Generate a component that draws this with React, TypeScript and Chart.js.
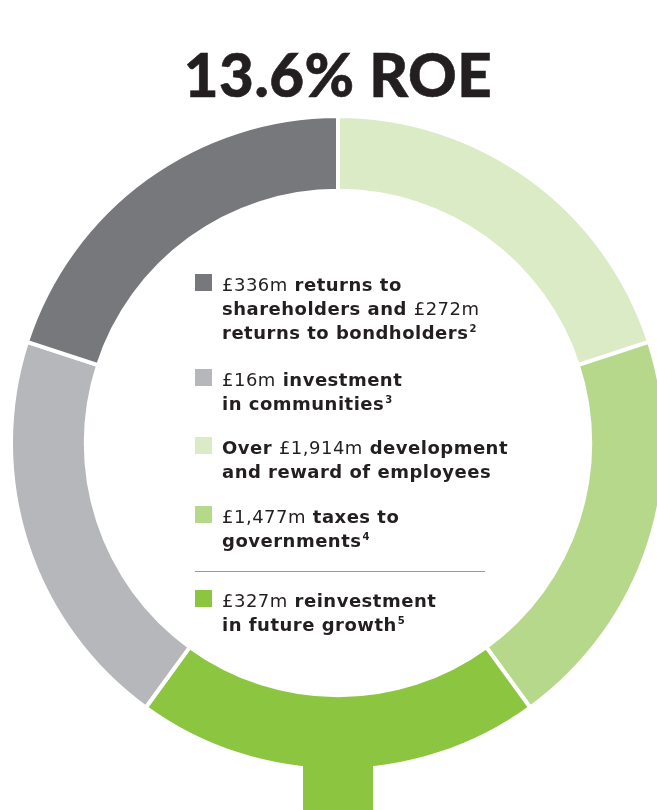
import React, { useEffect, useRef } from "react";
import { Chart, registerables } from "chart.js";

Chart.register(...registerables);

const TITLE = "13.6% ROE";

// Ring segments, clockwise from 12 o'clock
const categories = [
  "Development and reward of employees",
  "Taxes to governments",
  "Reinvestment in future growth",
  "Investment in communities",
  "Returns to shareholders and bondholders",
];
const amountsGBPm = [1914, 1477, 327, 16, 608];
const ringShares = [20, 20, 20, 20, 20];
const ringColors = ["#dbebc5", "#b6d88b", "#8cc53f", "#b6b7bb", "#77787b"];

// Legend (order shown in the centre), each line is a list of [text, style]
const legendOrder = [4, 3, 0, 1, 2];
const legendLines: any[] = [
  [
    [["£336m", "r"], [" returns to", "b"]],
    [["shareholders and ", "b"], ["£272m", "r"]],
    [["returns to bondholders", "b"], ["2", "s"]],
  ],
  [
    [["£16m", "r"], [" investment", "b"]],
    [["in communities", "b"], ["3", "s"]],
  ],
  [
    [["Over ", "b"], ["£1,914m", "r"], [" development", "b"]],
    [["and reward of employees", "b"]],
  ],
  [
    [["£1,477m", "r"], [" taxes to", "b"]],
    [["governments", "b"], ["4", "s"]],
  ],
  [
    [["£327m", "r"], [" reinvestment", "b"]],
    [["in future growth", "b"], ["5", "s"]],
  ],
];
const legendGapsAfter = [23, 20, 21, 0, 0];

const TITLE_FONT = "Lato, 'DejaVu Sans', sans-serif";
const BODY_FONT = "'DejaVu Sans', Lato, sans-serif";
const INK = "#231f20";

const stemPlugin = {
  id: "stem",
  afterDatasetsDraw(chart: any) {
    const arc = chart.getDatasetMeta(0).data[2];
    if (!arc) return;
    const { x, y, outerRadius } = arc.getProps(["x", "y", "outerRadius"], true);
    const ctx = chart.ctx;
    const top = y + outerRadius - 20;
    ctx.save();
    ctx.fillStyle = ringColors[2];
    ctx.fillRect(x - 35, top, 70, chart.height - top);
    ctx.restore();
  },
};

function Span({ part }: { part: any }) {
  const [text, style] = part;
  if (style === "s") {
    return (
      <span style={{ fontSize: 10, fontWeight: 700, position: "relative", top: -7, marginLeft: 1, letterSpacing: 0 }}>
        {text}
      </span>
    );
  }
  return (
    <span style={{ fontWeight: style === "b" ? 700 : 400, whiteSpace: "pre" }}>{text}</span>
  );
}

function LegendItem({ idx, pos }: { idx: number; pos: number }) {
  const lines = legendLines[pos];
  return (
    <div style={{ display: "flex", alignItems: "flex-start", marginBottom: legendGapsAfter[pos] }}>
      <div
        style={{
          width: 17,
          height: 17,
          marginTop: 1,
          background: ringColors[idx],
          flex: "0 0 auto",
        }}
      />
      <div style={{ marginLeft: 10 }}>
        {lines.map((line: any, i: number) => (
          <div key={i} style={{ height: 24, whiteSpace: "nowrap" }}>
            {line.map((p: any, j: number) => (
              <Span key={j} part={p} />
            ))}
          </div>
        ))}
      </div>
    </div>
  );
}

export default function App() {
  const canvasRef = useRef<HTMLCanvasElement | null>(null);

  useEffect(() => {
    if (!canvasRef.current) return;
    const chart = new Chart(canvasRef.current, {
      type: "doughnut",
      data: {
        labels: categories,
        datasets: [
          {
            data: ringShares,
            backgroundColor: ringColors,
            borderColor: "#ffffff",
            borderWidth: 4,
            hoverOffset: 0,
          },
        ],
      },
      options: {
        responsive: false,
        animation: false,
        radius: 327,
        cutout: 253,
        rotation: 0,
        layout: { padding: { bottom: 40 } },
        events: [],
        plugins: {
          legend: { display: false },
          tooltip: { enabled: false },
          title: { display: false },
        },
      } as any,
      plugins: [stemPlugin],
    });
    return () => chart.destroy();
  }, []);

  return (
    <div
      style={{
        position: "absolute",
        left: 0,
        top: 0,
        width: 657,
        height: 810,
        overflow: "hidden",
        background: "#ffffff",
        fontFamily: BODY_FONT,
        color: INK,
      }}
    >
      <div style={{ position: "absolute", left: 8, top: 113 }}>
        <canvas ref={canvasRef} width={660} height={700} style={{ display: "block" }} />
      </div>
      <div
        style={{
          position: "absolute",
          left: 0,
          top: 44,
          width: 676,
          textAlign: "center",
          fontFamily: TITLE_FONT,
          fontSize: 60,
          lineHeight: "60px",
          fontWeight: 900,
          letterSpacing: 0.5,
          WebkitTextStroke: "0.6px #231f20",
          whiteSpace: "nowrap",
        }}
      >
        {TITLE}
      </div>
      <div
        style={{
          position: "absolute",
          left: 195,
          top: 273,
          fontSize: 18,
          lineHeight: "24px",
          letterSpacing: 0.5,
        }}
      >
        {legendOrder.slice(0, 4).map((idx, pos) => (
          <LegendItem key={pos} idx={idx} pos={pos} />
        ))}
        <div style={{ marginTop: 18, width: 290, borderTop: "1px solid #9a9a9a", marginBottom: 17 }} />
        <LegendItem idx={legendOrder[4]} pos={4} />
      </div>
    </div>
  );
}
